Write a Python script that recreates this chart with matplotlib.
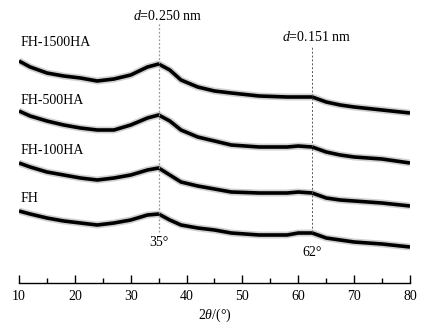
import matplotlib
matplotlib.use("Agg")
import matplotlib.pyplot as plt

plt.rcParams['font.family'] = ['Liberation Serif', 'DejaVu Serif']
plt.rcParams['mathtext.fontset'] = 'custom'
plt.rcParams['mathtext.rm'] = 'Liberation Serif'
plt.rcParams['mathtext.it'] = 'Liberation Serif:italic'

# 2theta positions (deg) at which the curves were read
two_theta = [10, 12, 15, 18, 21, 24, 27, 30, 33, 35, 37, 39, 42, 45, 48, 53, 58, 60, 62.5, 65, 67.5, 70, 75, 80]

# offset intensities (a.u.)
fh_1500ha = [222, 216, 210, 207, 205, 202, 204, 208, 216, 219, 213, 203, 196, 192, 190, 187, 186, 186, 186, 181, 178, 176, 173, 170]
fh_500ha  = [172, 167, 162, 158, 155, 153, 153, 158, 165, 168, 162, 153, 146, 142, 138, 136, 136, 137, 136, 131, 128, 126, 124, 120]
fh_100ha  = [120, 116, 111, 108, 105, 103, 105, 108, 113, 115, 108, 101, 97, 94, 91, 90, 90, 91, 90, 85, 83, 82, 80, 77]
fh        = [72, 69, 65, 62, 60, 58, 60, 63, 68, 69, 63, 58, 55, 53, 50, 48, 48, 50, 50, 45, 43, 41, 39, 36]

series = [fh_1500ha, fh_500ha, fh_100ha, fh]
labels = ['FH-1500HA', 'FH-500HA', 'FH-100HA', 'FH']
label_y = [241, 183, 133, 85]

peaks = [35, 62.5]
peak_labels = ['35°', '62°']
d_labels = [r'$\mathit{d}$=0.250 nm', r'$\mathit{d}$=0.151 nm']

x_ticks = [10, 20, 30, 40, 50, 60, 70, 80]

fig = plt.figure(figsize=(4.37, 3.31), dpi=100)
ax = fig.add_axes([19/437, 48/331, 391/437, 283/331])

for s in series:
    ax.plot(two_theta, s, color='#444444', lw=5.0, alpha=0.25, solid_joinstyle='round', solid_capstyle='butt')
    ax.plot(two_theta, s, color='black', lw=2.6, solid_joinstyle='round', solid_capstyle='butt')

for lab, ly in zip(labels, label_y):
    ax.text(10.2, ly, lab, fontsize=10, ha='left', va='center')

# dashed reference lines
ax.plot([peaks[0], peaks[0]], [51, 260], color='#999999', lw=0.9, ls=(0, (1.5, 1.5)))
ax.plot([peaks[1], peaks[1]], [51, 237], color='#555555', lw=0.7, ls=(0, (2, 2)))
ax.text(peaks[0] + 1.6, 267, d_labels[0], fontsize=10, ha='center', va='center')
ax.text(peaks[1] + 0.8, 246, d_labels[1], fontsize=10, ha='center', va='center')
ax.text(peaks[0], 40, peak_labels[0], fontsize=10, ha='center', va='center')
ax.text(peaks[1], 31, peak_labels[1], fontsize=10, ha='center', va='center')

ax.set_xlim(10, 80)
ax.set_ylim(0, 283)
ax.set_xticks(x_ticks)
ax.set_xticks(range(15, 80, 10), minor=True)
ax.tick_params(axis='x', which='major', direction='in', length=6, width=1, labelsize=10, pad=5)
ax.tick_params(axis='x', which='minor', direction='in', length=3.5, width=1)
ax.set_yticks([])
for side in ['left', 'right', 'top']:
    ax.spines[side].set_visible(False)
ax.spines['bottom'].set_linewidth(1)
ax.set_xlabel(r'2$\mathit{\theta}$/(°)', fontsize=10, labelpad=3)
ax.patch.set_alpha(0)

fig.savefig('out.png', dpi=100)
